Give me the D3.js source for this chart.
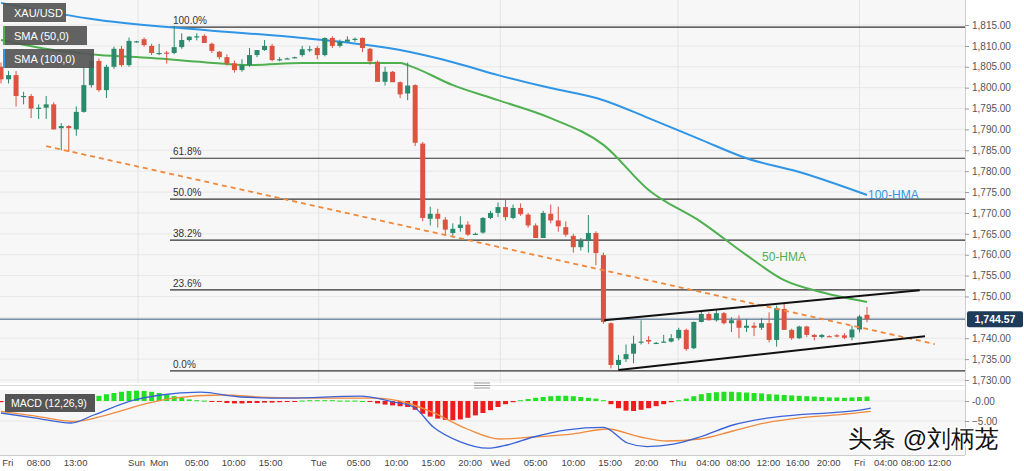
<!DOCTYPE html>
<html><head><meta charset="utf-8">
<style>
body{margin:0;background:#fff;font-family:"Liberation Sans",Arial,sans-serif}
text{font-family:"Liberation Sans",Arial,sans-serif}
</style></head>
<body>
<svg id="chart" width="1024" height="471"></svg>
<script src="https://d3js.org/d3.v7.min.js"></script>
<script>
// candles [open, high, low, close], one per hour
var candles = [
[1805,1806,1801,1802],[1802,1804,1801,1803],[1803,1804,1795.5,1798],[1797.8,1799,1796,1798],
[1798,1798.5,1792.7,1795],[1795,1796,1792.5,1795.2],[1795.2,1798,1792.5,1796],[1796,1796.5,1790,1790],
[1790.3,1791.5,1785,1790.8],[1790.8,1791,1784.6,1790.3],[1790,1795.5,1788.5,1794.2],[1794.2,1805,1794,1800.6],
[1800.6,1808,1800,1806.4],[1806.4,1807,1799,1799.4],[1799.4,1805.5,1797.5,1805],[1805,1809.8,1804.5,1809.3],
[1809.3,1810,1805,1805.4],[1805.4,1812,1805,1811.2],[1811,1811.2,1810.8,1811.1],[1811.6,1812,1809.8,1810.2],
[1810,1810.5,1807.8,1808.3],[1808.3,1810.5,1807.8,1808.3],[1808.4,1808.8,1805.8,1808.2],[1808.3,1814.8,1808,1809.7],
[1809.7,1813,1809.3,1811.4],[1811.4,1812.3,1811,1812.2],[1812.2,1813,1811.3,1812.3],[1812.4,1812.8,1810.8,1810.7],
[1810.5,1810.8,1808.3,1808.8],[1808.6,1808.8,1806.8,1807.3],[1807.3,1808,1805.3,1805.8],[1805.8,1806.5,1803.6,1804.2],
[1804.2,1806.8,1803.8,1805.4],[1805.4,1809.5,1805,1807.8],[1807.8,1809,1807.3,1809],[1809,1811.4,1808.8,1810],
[1810,1810.5,1806.3,1806.6],[1806.8,1807.3,1806.3,1806.8],[1807,1807.2,1806.8,1807],[1807.2,1807.4,1807,1807.3],
[1807.8,1810,1807.4,1809.2],[1809.2,1810,1808.5,1809.2],[1809.5,1810,1806.8,1807.8],[1807.8,1812,1807.5,1811.9],
[1811.9,1812.3,1809.5,1810],[1810,1811.5,1809.6,1811],[1811,1812.3,1810.8,1811.5],[1811.6,1812,1811,1811.7],
[1811.9,1812,1808.5,1809.5],[1809.3,1809.5,1805.5,1806.3],[1806.2,1806.5,1801.5,1801.4],[1801.4,1805,1800.5,1803.8],
[1803.8,1804,1801.5,1801.3],[1801.3,1801.5,1797.5,1798.4],[1798.6,1806,1797,1800.5],[1800.6,1800.8,1786,1786.8],
[1786.6,1787,1768,1768.8],[1768.6,1771.5,1767,1769.8],[1769.8,1771,1766.5,1768.6],[1768.4,1769,1764.8,1766],
[1765.2,1767.5,1764.5,1766.2],[1766.4,1769.2,1765.5,1767.2],[1767.2,1768,1764.5,1764.8],[1765,1765.3,1764.8,1765],
[1765.3,1769,1765,1768.8],[1768.8,1770.5,1768.5,1770],[1770,1772.5,1769,1771.4],[1771.4,1773.2,1768.2,1769],
[1768.8,1772,1768.5,1771.2],[1771.2,1772.3,1769.3,1769.7],[1769.6,1770,1766.5,1767],[1767,1767.5,1764,1764],
[1764,1770.5,1764,1770],[1769.8,1772,1767.5,1768.2],[1768.2,1771.5,1765.5,1766.8],[1766.6,1768,1764.3,1764.8],
[1764.5,1765,1760.5,1761.8],[1761.8,1764,1761,1763.3],[1763.5,1769.5,1760.5,1765.2],[1765.2,1765.6,1757.5,1760.4],
[1759.9,1760.5,1743.5,1743.9],[1743.6,1743.8,1732.8,1733.6],[1733.6,1736,1732.4,1734.8],[1735,1738.5,1734.3,1736.2],
[1736.3,1740.6,1734,1738.7],[1739,1744.3,1738.5,1739.2],[1739.6,1740.5,1738.6,1739.2],[1738.9,1739.1,1738.7,1738.9],
[1739.1,1740.8,1738.9,1739.2],[1739.2,1741,1739,1740],[1740,1742.5,1739.5,1742],[1742,1742.3,1737,1737.4],
[1737.6,1744,1737.4,1743.9],[1743.9,1746.5,1743.8,1745.8],[1745.8,1746.2,1744.3,1744.3],[1744.3,1747,1744,1746],
[1746,1746.3,1743.3,1743.6],[1743.6,1745,1741.5,1744.3],[1744.3,1745.5,1740,1742.5],[1742.5,1744.6,1741.5,1743],
[1743,1743.8,1740.5,1742.5],[1742.5,1744.8,1742,1743.6],[1743.6,1746.2,1739,1739.6],[1739.6,1747.8,1738,1747.2],
[1747,1748.5,1742,1742],[1742,1742.3,1739.6,1740],[1740,1743,1739.8,1742.8],[1742.8,1743,1740.3,1740.8],
[1740.8,1741,1739.5,1740.3],[1740.3,1741,1740,1740.8],[1740.5,1740.7,1740.3,1740.4],[1740.7,1741,1740.2,1740.4],
[1740.7,1741.2,1739.8,1740.1],[1740.2,1743,1739.5,1742.1],[1742.1,1745.6,1741.4,1745.2],[1745.6,1747.5,1743.8,1744.57]
];
var lastPrice = 1744.57;

// moving averages read at candle indices [index, value]
var hma100 = [[0,1820.3],[13,1816.2],[27,1813.8],[40,1811.9],[53,1809],[60,1806.1],[66,1803],[73,1799.9],
  [80,1797],[86,1792.7],[93,1787.5],[99,1783.1],[106,1779.8],[115,1774.3]];
var hma50 = [[0,1811.4],[7,1809],[13,1807.8],[20,1807.1],[27,1806.1],[33,1805.4],[40,1805.9],[46,1805.9],
  [53,1805.9],[54,1805.4],[60,1800.6],[66,1797],[73,1792.7],[80,1786.3],[86,1775.5],[93,1767.8],
  [99,1759.9],[104,1753.9],[109,1751],[115,1748.7]];

var fibLevels = ["100.0%","61.8%","50.0%","38.2%","23.6%","0.0%"];
var fibPrices = [1814.5,1783.1,1773.3,1763.5,1751.6,1732.2];

var trendLine = [[6,1786.0],[124,1738.6]];
var channelUpper = [[80.1,1744.3],[122,1751.5]];
var channelLower = [[82,1732.4],[122.7,1740.5]];

var priceTicks = d3.range(1730, 1816, 5);

var macdLine = [[0,-3.0],[4.4,-4.2],[9.3,-5.5],[12.3,-3.5],[17.6,0.2],[21.2,1.5],[26.5,2.2],[31.8,1.0],
  [38,0.7],[47.7,1.2],[52,-0.2],[54.8,-1.5],[57.4,-6.5],[61,-10.2],[64.6,-11.8],[67.2,-11],[70.7,-9],
  [75.2,-7.2],[80,-6.6],[83.2,-10.5],[85.8,-11.4],[89.3,-10.8],[92.8,-9],[97.2,-6],[101.7,-4.3],
  [106.1,-3.4],[110.5,-2.9],[114,-2.3],[115.5,-1.8]];
var signalLine = [[0,-2.6],[4.4,-3.7],[9.7,-5.1],[14.2,-3.4],[19.4,-0.6],[22.9,0.7],[29.2,1.5],[35.4,0.9],
  [42.4,0.7],[49.5,0.7],[54,-0.5],[57.4,-2.9],[61.9,-7],[66.3,-9.5],[70.7,-9],[76,-8.2],[80.5,-7],
  [84.9,-9],[88.5,-10],[92.8,-9.5],[97.2,-7.5],[101.7,-5.4],[106.1,-4.2],[111.4,-3.4],[115.5,-2.6]];
var histogram = [
-0.3,-0.3,-0.3,-0.2,-0.2,-0.1,0.1,0.2,0.3,0.4,0.5,0.6,
0.8,1.3,1.7,2.0,2.3,2.5,2.6,2.5,2.3,2.0,1.6,1.2,0.8,
0.4,0.2,0.1,-0.1,-0.2,
-0.5,-0.6,-0.6,-0.5,-0.5,-0.4,-0.4,-0.3,-0.2,
-0.1,0.1,0.2,0.2,0.2,0.2,0.1,0.1,0.1,0.0,-0.1,
-0.6,-0.9,-1.1,-1.3,-1.5,-2.2,-3.2,-3.9,-4.4,-4.7,-4.8,-4.6,-4.2,-3.6,-3.0,-2.3,-1.5,-0.8,
-0.3,0.2,0.5,0.8,1.0,1.2,1.3,1.3,1.2,1.0,0.8,0.6,
0.2,-0.8,-1.8,-2.4,-2.5,-2.2,-1.8,-1.3,-0.8,-0.3,0.2,
0.6,1.2,1.7,2.0,2.2,2.3,2.3,2.2,2.1,2.0,1.9,1.7,1.6,1.5,1.4,1.3,1.2,1.1,1.0,0.9,0.9,0.8,0.9,1.0,1.1];

var timeLabels = ["Fri","08:00","13:00","Sun","Mon","05:00","10:00","15:00","Tue","05:00","10:00","15:00","20:00",
  "Wed","05:00","10:00","15:00","20:00","Thu","04:00","08:00","12:00","16:00","20:00","Fri","04:00","08:00","12:00"];
var timeIdx = [0.9,5,9.9,18.0,21.0,26,30.9,35.8,42.2,47.5,52.5,57.4,62.3,66.3,71,76,80.9,85.7,89.9,93.9,97.9,
  101.9,105.8,109.9,114,117.5,121.1,124.6];
var dayIdx = [18.2,42.2,66.3,89.9,114];

var svg = d3.select("#chart");
var plotR = 965;
var x = d3.scaleLinear().domain([0,115]).range([1,867]);
var y = d3.scaleLinear().domain([1730,1815]).range([380,25]);
var ym = d3.scaleLinear().domain([-5,0]).range([421,401]);
var up = "#2b8a6c", down = "#dc5440";

svg.append("rect").attr("width",1024).attr("height",471).attr("fill","#fff");
svg.append("rect").attr("x",0).attr("y",0).attr("width",plotR).attr("height",383).attr("fill","#f7f7f7");
svg.append("rect").attr("x",0).attr("y",390).attr("width",plotR).attr("height",65).attr("fill","#f7f7f7");

svg.append("defs").append("clipPath").attr("id","clipMain").append("rect")
  .attr("x",0).attr("y",0).attr("width",plotR).attr("height",383);
svg.select("defs").append("clipPath").attr("id","clipMacd").append("rect")
  .attr("x",0).attr("y",390).attr("width",plotR).attr("height",65);

var main = svg.append("g").attr("clip-path","url(#clipMain)");
// grid
main.selectAll(".hg").data(priceTicks).enter().append("line")
  .attr("x1",0).attr("x2",plotR).attr("y1",d=>y(d)).attr("y2",d=>y(d)).attr("stroke","#e8e8e8");
main.selectAll(".vg").data(dayIdx).enter().append("line")
  .attr("x1",d=>x(d)).attr("x2",d=>x(d)).attr("y1",0).attr("y2",383).attr("stroke","#e4e4e4");

// fib levels
main.selectAll(".fib").data(fibPrices).enter().append("line")
  .attr("x1",170).attr("x2",plotR).attr("y1",d=>y(d)).attr("y2",d=>y(d)).attr("stroke","#333").attr("stroke-width",1.2);
main.selectAll(".fibt").data(fibPrices).enter().append("text")
  .attr("x",173).attr("y",d=>y(d)-3).attr("font-size",10).attr("fill","#333").text((d,i)=>fibLevels[i]);

// last price line
main.append("line").attr("x1",0).attr("x2",plotR).attr("y1",y(lastPrice)).attr("y2",y(lastPrice))
  .attr("stroke","#36587a").attr("stroke-width",1);

var line = d3.line().x(d=>x(d[0])).y(d=>y(d[1]));
var smooth = d3.line().curve(d3.curveMonotoneX).x(d=>x(d[0])).y(d=>y(d[1]));
main.append("path").attr("d",smooth(hma100)).attr("fill","none").attr("stroke","#2f95e6").attr("stroke-width",2);
main.append("path").attr("d",smooth(hma50)).attr("fill","none").attr("stroke","#4fb04f").attr("stroke-width",2);

// candles
var cw = 5;
var cg = main.selectAll(".c").data(candles).enter().append("g");
cg.append("line").attr("x1",(d,i)=>x(i)).attr("x2",(d,i)=>x(i))
  .attr("y1",d=>y(d[1])).attr("y2",d=>y(d[2])).attr("stroke",d=>d[3]>=d[0]?up:down).attr("stroke-width",1);
cg.append("rect").attr("x",(d,i)=>x(i)-cw/2).attr("width",cw)
  .attr("y",d=>y(Math.max(d[0],d[3])))
  .attr("height",d=>Math.max(1.2,Math.abs(y(d[0])-y(d[3]))))
  .attr("fill",d=>d[3]>=d[0]?up:down);

main.append("path").attr("d",line(trendLine)).attr("fill","none").attr("stroke","#f0883a")
  .attr("stroke-width",1.8).attr("stroke-dasharray","5,4");
main.append("path").attr("d",line(channelUpper)).attr("fill","none").attr("stroke","#111").attr("stroke-width",2);
main.append("path").attr("d",line(channelLower)).attr("fill","none").attr("stroke","#111").attr("stroke-width",2);

main.append("text").attr("x",868).attr("y",y(1774.3)+4).attr("font-size",12).attr("fill","#2f95e6").text("100-HMA");
main.append("text").attr("x",762).attr("y",y(1759.9)+6).attr("font-size",12).attr("fill","#4fb04f").text("50-HMA");

// right price axis (tick hidden behind last price tag)
svg.append("line").attr("x1",plotR+0.5).attr("x2",plotR+0.5).attr("y1",0).attr("y2",455).attr("stroke","#ccc");
var ax = svg.append("g").attr("transform","translate("+plotR+",0)")
  .call(d3.axisRight(y).tickValues(priceTicks.filter(d=>Math.abs(d-lastPrice)>2.5)).tickSize(4).tickFormat(d3.format(",.2f")));
ax.select(".domain").remove();
ax.selectAll("line").attr("stroke","#999");
ax.selectAll("text").attr("fill","#555").attr("font-size",10);

var lp = svg.append("g").attr("transform","translate("+(plotR+2)+","+y(lastPrice)+")");
lp.append("rect").attr("x",0).attr("y",-8).attr("width",56).attr("height",16).attr("rx",2).attr("fill","#1f3b5a");
lp.append("text").attr("x",28).attr("y",4).attr("text-anchor","middle").attr("font-size",10.5)
  .attr("font-weight","bold").attr("fill","#fff").text(d3.format(",.2f")(lastPrice));

// legend boxes
var legend = [["XAU/USD",null],["SMA (50,0)","#4fb04f"],["SMA (100,0)","#2f95e6"]];
var lg = svg.selectAll(".lg").data(legend).enter().append("g")
  .attr("transform",(d,i)=>"translate(3,"+(3+i*23)+")");
lg.append("rect").attr("width",d=>d[0].length*7+14).attr("height",19).attr("fill","#555").attr("opacity",0.92);
lg.filter(d=>d[1]).append("rect").attr("width",2).attr("height",19).attr("fill",d=>d[1]);
lg.append("text").attr("x",11).attr("y",13.5).attr("font-size",11).attr("fill","#fff").text(d=>d[0]);

// pane separator
svg.append("line").attr("x1",0).attr("x2",plotR).attr("y1",385.5).attr("y2",385.5).attr("stroke","#ddd");
[383,385.5,388].forEach(v=>svg.append("line").attr("x1",474).attr("x2",490).attr("y1",v).attr("y2",v).attr("stroke","#999"));

// MACD pane
var mg = svg.append("g").attr("clip-path","url(#clipMacd)");
[0,-5].forEach(v=>mg.append("line").attr("x1",0).attr("x2",plotR).attr("y1",ym(v)).attr("y2",ym(v)).attr("stroke","#e8e8e8"));
mg.selectAll(".h").data(histogram).enter().append("rect")
  .attr("x",(d,i)=>x(i)-2.5).attr("width",5)
  .attr("y",d=>d>=0?ym(d):ym(0)).attr("height",d=>Math.max(1,Math.abs(ym(d)-ym(0))))
  .attr("fill",d=>d>=0?"#22e022":"#ee1c1c");
var ml = d3.line().curve(d3.curveMonotoneX).x(d=>x(d[0])).y(d=>ym(d[1]));
mg.append("path").attr("d",ml(signalLine)).attr("fill","none").attr("stroke","#f08a3c").attr("stroke-width",1.3);
mg.append("path").attr("d",ml(macdLine)).attr("fill","none").attr("stroke","#3a63d8").attr("stroke-width",1.3);
var mlab = svg.append("g").attr("transform","translate(5,394)");
mlab.append("rect").attr("width",90).attr("height",18).attr("fill","#555");
mlab.append("text").attr("x",6).attr("y",13).attr("font-size",10.5).attr("fill","#fff").text("MACD (12,26,9)");
var max = svg.append("g").attr("transform","translate("+plotR+",0)")
  .call(d3.axisRight(ym).tickValues([0,-5]).tickSize(4).tickFormat(d=>d===0?"-0.00":d3.format(".2f")(d)));
max.select(".domain").remove();
max.selectAll("line").attr("stroke","#999");
max.selectAll("text").attr("fill","#555").attr("font-size",10);

// time axis
svg.append("line").attr("x1",0).attr("x2",plotR).attr("y1",455.5).attr("y2",455.5).attr("stroke","#ccc");
svg.selectAll(".tl").data(timeLabels).enter().append("text")
  .attr("x",(d,i)=>x(timeIdx[i])).attr("y",466).attr("text-anchor","middle")
  .attr("font-size",9.5).attr("fill","#444").text(d=>d);

// watermark
svg.append("text").attr("x",848).attr("y",447).attr("font-size",24)
  .attr("font-family","'Noto Sans CJK SC'").attr("fill","#111")
  .attr("stroke","#fff").attr("stroke-width",3).attr("paint-order","stroke").text("头条 @刘柄茏");
</script>
</body></html>
